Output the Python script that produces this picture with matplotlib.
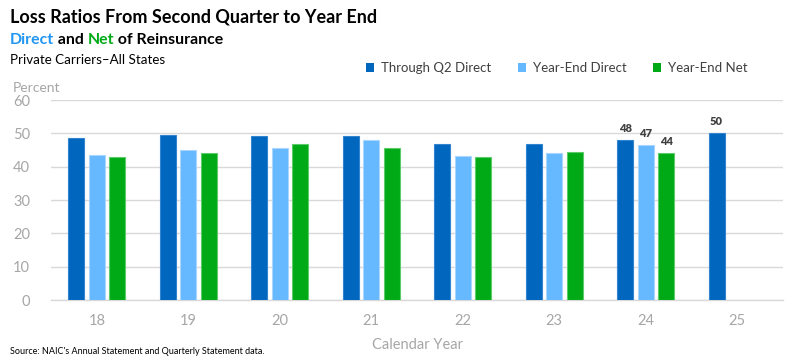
import matplotlib
matplotlib.use("Agg")
import matplotlib.pyplot as plt
import numpy as np
from matplotlib.patches import Patch

plt.rcParams['font.family'] = ['Lato', 'DejaVu Sans']

years = ["18", "19", "20", "21", "22", "23", "24", "25"]
q2_direct = [48.6, 49.4, 49.2, 49.1, 46.7, 46.7, 47.9, 50.0]
ye_direct = [43.5, 44.9, 45.5, 47.9, 43.2, 44.0, 46.6, None]
ye_net = [43.0, 44.0, 46.7, 45.7, 42.8, 44.4, 44.0, None]
labels_q2 = {"24": "48", "25": "50"}
labels_yed = {"24": "47"}
labels_yen = {"24": "44"}

c_dark = "#0066BE"
c_light = "#66B8FF"
c_green = "#00AA17"
gray = "#A6A6A6"

fig = plt.figure(figsize=(8, 3.61), dpi=100)
ax = fig.add_axes([51/800, (361-300)/361, (783-51)/800, 200/361])

x = np.arange(len(years)) + 0.5
w = 0.175
off = 0.226

def draw(vals, dx, color, edge, labels):
    xs = [xi + dx for xi, v in zip(x, vals) if v is not None]
    vs = [v for v in vals if v is not None]
    ax.bar(xs, vs, width=w, color=color, edgecolor=edge, linewidth=0.8, zorder=3)
    for xi, yr, v in zip(x, years, vals):
        if yr in labels and v is not None:
            ax.text(xi + dx, v + 1.8, labels[yr], ha='center', va='bottom',
                    fontsize=8, fontweight='heavy', color='#404040')

draw(q2_direct, -off, c_dark, "#3385D0", labels_q2)
draw(ye_direct, 0, c_light, "#A8D6FF", labels_yed)
draw(ye_net, off, c_green, "#5CCB6A", labels_yen)

ax.set_xlim(0, 8)
ax.set_ylim(0, 60)
ax.set_yticks(range(0, 61, 10))
ax.set_xticks(x)
ax.set_xticklabels(years)
ax.grid(axis='y', color='#D9D9D9', linewidth=1, zorder=0)
for s in ['top', 'right', 'left']:
    ax.spines[s].set_visible(False)
ax.spines['bottom'].set_color('#D9D9D9')
ax.spines['bottom'].set_linewidth(1)
ax.tick_params(axis='both', length=0, colors=gray, labelsize=10.5)
ax.tick_params(axis='x', pad=10)
ax.tick_params(axis='y', pad=15)
ax.set_xlabel("Calendar Year", color=gray, fontsize=10.5, labelpad=7)

fig.text(13/800, 1 - 88/361, "Percent", color=gray, fontsize=10, va='center', ha='left')

fig.text(10/800, 1 - 17/361, "Loss Ratios From Second Quarter to Year End",
         fontsize=13, fontweight='bold', va='center', ha='left', color='black')
fs2 = 11.4
t1 = fig.text(10/800, 1 - 40/361, "Direct", fontsize=fs2, fontweight='bold',
              color='#2196F3', va='center', ha='left')
fig.canvas.draw()
r = fig.canvas.get_renderer()
bb = t1.get_window_extent(r)
t2 = fig.text(bb.x1/800, 1 - 40/361, " and ", fontsize=fs2, fontweight='bold',
              color='black', va='center', ha='left')
bb = t2.get_window_extent(r)
t3 = fig.text(bb.x1/800, 1 - 40/361, "Net", fontsize=fs2, fontweight='bold',
              color=c_green, va='center', ha='left')
bb = t3.get_window_extent(r)
fig.text(bb.x1/800, 1 - 40/361, " of Reinsurance", fontsize=fs2, fontweight='bold',
         color='black', va='center', ha='left')
fig.text(10/800, 1 - 60/361, "Private Carriers\u2013All States", fontsize=9.6,
         va='center', ha='left', color='black')

handles = [Patch(facecolor=c_dark), Patch(facecolor=c_light), Patch(facecolor=c_green)]
leg = fig.legend(handles, ["Through Q2 Direct", "Year-End Direct", "Year-End Net"],
                 loc='center left', bbox_to_anchor=(366/800, 1 - 68/361), ncol=3,
                 frameon=False, fontsize=9.5, handlelength=0.6, handleheight=0.6,
                 handletextpad=0.55, columnspacing=2.0, labelcolor='#404040',
                 borderaxespad=0, borderpad=0)

fig.text(10/800, 1 - 351/361, "Source: NAIC's Annual Statement and Quarterly Statement data.",
         fontsize=6.5, va='center', ha='left', color='black')

fig.savefig("out.png", dpi=100)
